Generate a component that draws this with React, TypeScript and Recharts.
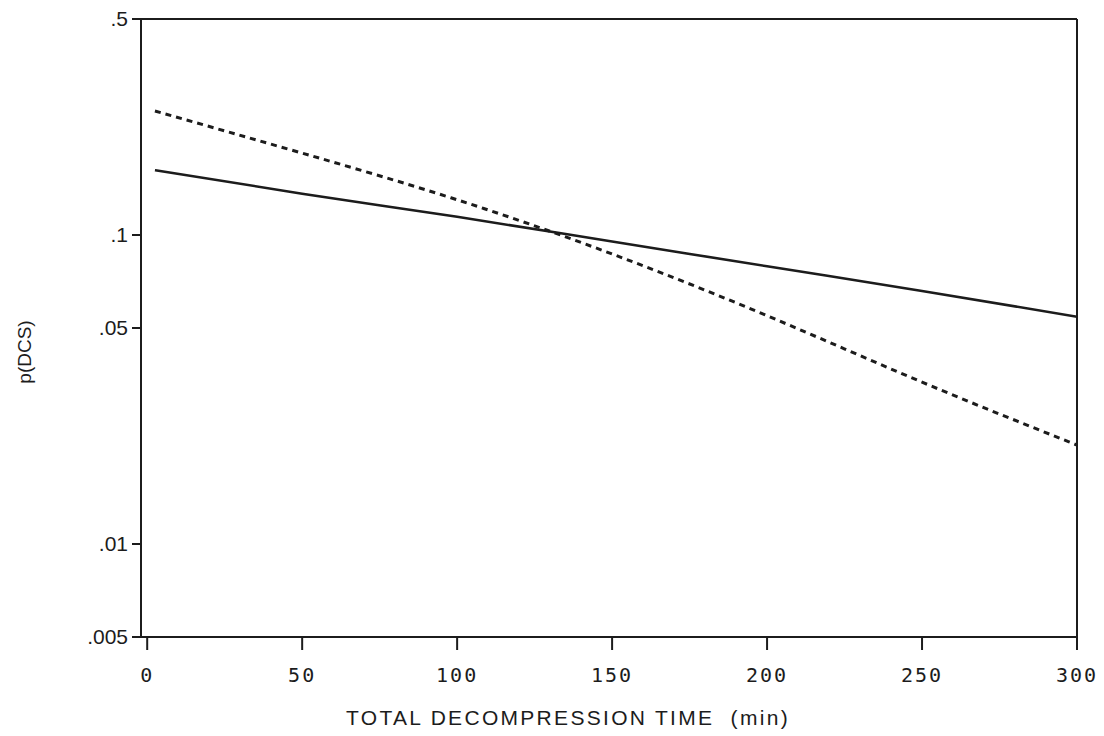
import React from 'react'
import { LineChart, Line, XAxis, YAxis, ReferenceLine, Label } from 'recharts'

// (p on log scale)
const timeMin = [2.5, 50, 100, 150, 200, 250, 300]
const solidP = [0.162, 0.136, 0.1145, 0.0953, 0.0792, 0.0659, 0.0544]
const dashedP = [0.252, 0.184, 0.13, 0.0868, 0.0548, 0.0334, 0.0209]

const xTicks = [0, 50, 100, 150, 200, 250, 300]
const yTicks = [0.005, 0.01, 0.05, 0.1, 0.5]
const yLabels: Record<string, string> = {
  '0.005': '.005', '0.01': '.01', '0.05': '.05', '0.1': '.1', '0.5': '.5',
}

const data = timeMin.map((t, i) => ({ t, solid: solidP[i], dashed: dashedP[i] }))

const ink = '#1c1c1c'

const XTick = (p: any) => (
  <text x={p.x} y={p.y + 30} textAnchor="middle" fontSize={20} fontFamily="DejaVu Sans Mono" letterSpacing={2} fill={ink}>
    {p.payload.value}
  </text>
)

const YTick = (p: any) => (
  <text x={p.x - 2} y={p.y + 7} textAnchor="end" fontSize={21} fontFamily="Liberation Sans" fill={ink}>
    {yLabels[String(p.payload.value)] ?? p.payload.value}
  </text>
)

export default function App() {
  return (
    <div style={{ position: 'absolute', left: 0, top: 0, background: '#fff' }}>
      <LineChart width={1104} height={736} data={data} margin={{ top: 19, right: 27, bottom: 19, left: 0 }}>
        <XAxis
          dataKey="t"
          type="number"
          domain={[-2, 300]}
          ticks={xTicks}
          allowDataOverflow
          stroke={ink}
          strokeWidth={2}
          tickSize={13}
          height={80}
          tick={XTick}
        >
          <Label
            content={() => (
              <text x={568} y={725} textAnchor="middle" fontSize={21} fontFamily="Liberation Sans" letterSpacing={2.3} fill={ink} style={{ whiteSpace: 'pre' }}>
                {'TOTAL DECOMPRESSION TIME  (min)'}
              </text>
            )}
          />
        </XAxis>
        <YAxis
          scale="log"
          domain={[0.005, 0.5]}
          ticks={yTicks}
          allowDataOverflow
          width={141}
          stroke={ink}
          strokeWidth={2}
          tickSize={9}
          tick={YTick}
        >
          <Label
            content={() => (
              <text x={0} y={0} transform="translate(31 352) rotate(-90)" textAnchor="middle" fontSize={19} fontFamily="Liberation Sans" fill={ink}>
                p(DCS)
              </text>
            )}
          />
        </YAxis>
        <ReferenceLine y={0.5} stroke={ink} strokeWidth={2} />
        <ReferenceLine x={300} stroke={ink} strokeWidth={2} />
        <Line dataKey="solid" type="monotone" stroke={ink} strokeWidth={2.5} dot={false} isAnimationActive={false} />
        <Line dataKey="dashed" type="natural" stroke={ink} strokeWidth={3} strokeDasharray="6 5" dot={false} isAnimationActive={false} />
      </LineChart>
    </div>
  )
}
